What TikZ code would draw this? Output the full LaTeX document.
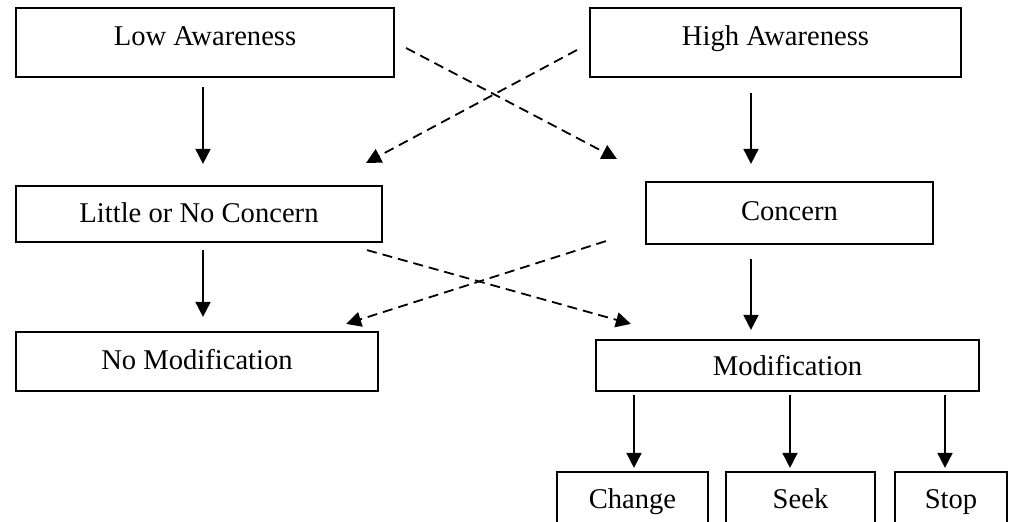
\documentclass[tikz,border=0pt]{standalone}
\usepackage{fontspec}
\setmainfont{Liberation Serif}
\usetikzlibrary{arrows.meta}
\tikzstyle{stage}=[
        draw,
        line width = 1.1pt,
        inner sep = 0pt,
        text height = 9.9pt,
        text depth = 0pt,
        font = \fontsize{14.3}{16}\selectfont
    ]
\tikzstyle{flow}=[
    line width = 0.9pt,
    -{Triangle[length=7.5pt,width=7.5pt]}
]
\tikzstyle{cross flow}=[
    flow,
    dash pattern = on 5pt off 3pt
]

\begin{document}
\begin{tikzpicture}[x=0.5pt, y=-0.5pt]
        \useasboundingbox (0,0) rectangle (1014,521);

        \node[stage, minimum width=189pt, minimum height=34.5pt, text depth=7pt] (la) at (205,42.5) {Low Awareness};
        \node[stage, minimum width=185.5pt, minimum height=34.5pt, text depth=7pt] (ha) at (775.5,42.5) {High Awareness};
        \node[stage, minimum width=183pt, minimum height=28pt, text depth=1.1pt] (lnc) at (199,214) {Little or No Concern};
        \node[stage, minimum width=143.5pt, minimum height=31pt, text depth=2.8pt] (con) at (789.5,213) {Concern};
        \node[stage, minimum width=181pt, minimum height=29.5pt, text depth=2pt] (nomod) at (197,361.5) {No Modification};
        \node[stage, minimum width=191.5pt, minimum height=25.5pt] (mod) at (787.5,365.5) {Modification};
        \node[stage, minimum width=75.5pt, minimum height=30pt, text depth=3.5pt] (change) at (632.5,502) {Change};
        \node[stage, minimum width=74.5pt, minimum height=30pt, text depth=3.5pt] (seek) at (800.5,502) {Seek};
        \node[stage, minimum width=56pt, minimum height=30pt, text depth=3.5pt] (stop) at (951,502) {Stop};

        \draw[flow, shorten <=4.5pt, shorten >=10.5pt] ([xshift=-1pt]la.south) -- ([xshift=-1pt]la.south |- lnc.north);
        \draw[flow, shorten <=7.5pt, shorten >=8.5pt] ([xshift=-12.25pt]ha.south) -- ([xshift=-12.25pt]ha.south |- con.north);
        \draw[flow, shorten <=3.5pt, shorten >=7pt] ([xshift=2pt]lnc.south) -- ([xshift=2pt]lnc.south |- nomod.north);
        \draw[flow, shorten <=7pt, shorten >=4.5pt] ([xshift=-19.25pt]con.south) -- ([xshift=-19.25pt]con.south |- mod.north);
        \draw[flow, shorten <=1.5pt, shorten >=1.5pt] ([xshift=0.75pt]change.north |- mod.south) -- ([xshift=0.75pt]change.north);
        \draw[flow, shorten <=1.5pt, shorten >=1.5pt] ([xshift=-5.25pt]seek.north |- mod.south) -- ([xshift=-5.25pt]seek.north);
        \draw[flow, shorten <=1.5pt, shorten >=1.5pt] ([xshift=-3pt]stop.north |- mod.south) -- ([xshift=-3pt]stop.north);

        \draw[cross flow] ([xshift=5.5pt, yshift=-2.75pt]la.east) -- ([xshift=-14pt, yshift=11pt]con.north west);
        \draw[cross flow] ([xshift=-6pt, yshift=-3.75pt]ha.west) -- ([xshift=-8.5pt, yshift=11pt]lnc.north east);
        \draw[cross flow] ([xshift=-8pt, yshift=-3.5pt]lnc.south east) -- ([xshift=18pt, yshift=7.5pt]mod.north west);
        \draw[cross flow] ([xshift=-19.5pt, yshift=2pt]con.south west) -- ([xshift=-16.5pt, yshift=3.5pt]nomod.north east);

    \end{tikzpicture}
\end{document}
